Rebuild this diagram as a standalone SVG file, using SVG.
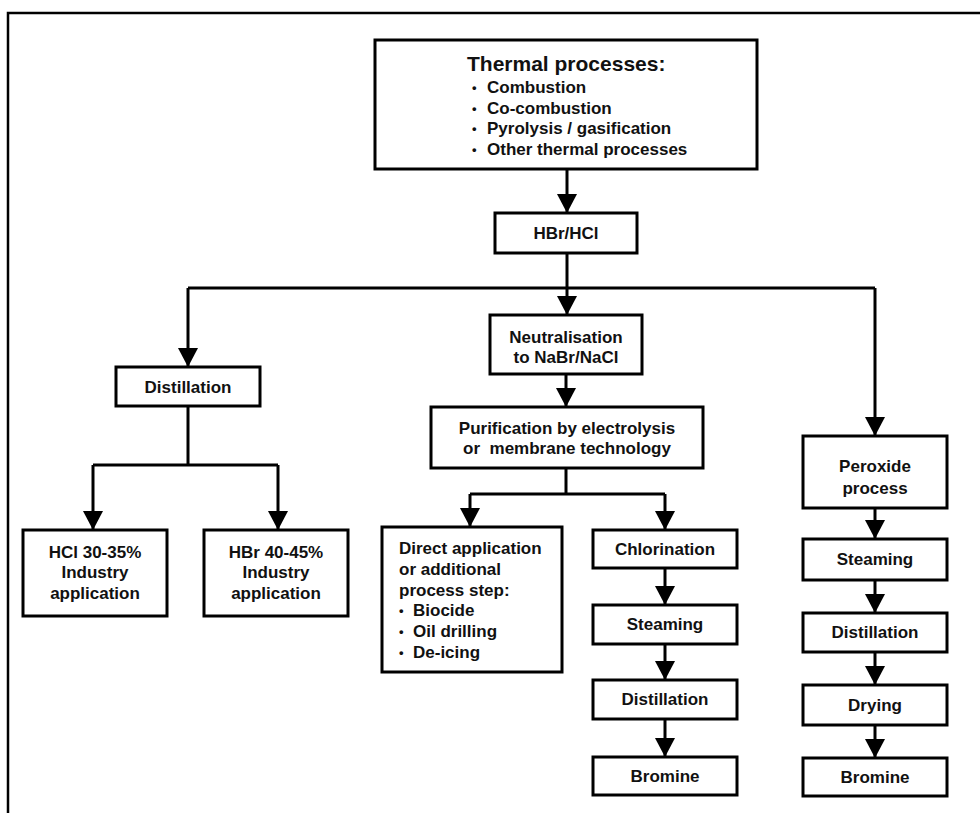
<svg xmlns="http://www.w3.org/2000/svg" width="980" height="813" viewBox="0 0 980 813">
<style>
.box{fill:#fff;stroke:#000;stroke-width:3}
.t{font-family:"Liberation Sans",Arial,sans-serif;font-weight:bold;font-size:17px;fill:#111}
.c{text-anchor:middle}
.h{font-size:21px}
.b{font-size:13px}
.ln{fill:none;stroke:#000;stroke-width:3}
</style>
<defs>
<marker id="ah" viewBox="0 0 19 20" refX="19" refY="10" markerWidth="19" markerHeight="20" markerUnits="userSpaceOnUse" orient="auto">
<path d="M0,0 L19,10 L0,20 z" fill="#000"/>
</marker>
</defs>
<rect width="980" height="813" fill="#fff"/>
<path d="M8,813 V13 H980" fill="none" stroke="#000" stroke-width="2.5"/>

<g id="connectors">
<path class="ln" d="M567,169 V213" marker-end="url(#ah)"/>
<path class="ln" d="M567,253 V315" marker-end="url(#ah)"/>
<path class="ln" d="M188,288 H875"/>
<path class="ln" d="M188,288 V367" marker-end="url(#ah)"/>
<path class="ln" d="M875,288 V436" marker-end="url(#ah)"/>
<path class="ln" d="M566,374 V407" marker-end="url(#ah)"/>
<path class="ln" d="M566,468 V494"/>
<path class="ln" d="M470,494 H665"/>
<path class="ln" d="M470,494 V527" marker-end="url(#ah)"/>
<path class="ln" d="M665,494 V530" marker-end="url(#ah)"/>
<path class="ln" d="M665,568 V605" marker-end="url(#ah)"/>
<path class="ln" d="M665,644 V680" marker-end="url(#ah)"/>
<path class="ln" d="M665,719 V757" marker-end="url(#ah)"/>
<path class="ln" d="M875,508 V539" marker-end="url(#ah)"/>
<path class="ln" d="M875,580 V613" marker-end="url(#ah)"/>
<path class="ln" d="M875,652 V685" marker-end="url(#ah)"/>
<path class="ln" d="M875,725 V758" marker-end="url(#ah)"/>
<path class="ln" d="M188,406 V465"/>
<path class="ln" d="M93,465 H278"/>
<path class="ln" d="M93,465 V530" marker-end="url(#ah)"/>
<path class="ln" d="M278,465 V530" marker-end="url(#ah)"/>
</g>

<g id="thermal">
<rect class="box" x="375" y="40" width="382" height="129"/>
<text class="t h" x="467" y="71">Thermal processes:</text>
<text class="t b" x="472" y="92">•</text><text class="t" x="487" y="93">Combustion</text>
<text class="t b" x="472" y="113">•</text><text class="t" x="487" y="114">Co-combustion</text>
<text class="t b" x="472" y="133">•</text><text class="t" x="487" y="134">Pyrolysis / gasification</text>
<text class="t b" x="472" y="154">•</text><text class="t" x="487" y="155">Other thermal processes</text>
</g>

<g id="hbrhcl">
<rect class="box" x="495" y="213" width="142" height="40"/>
<text class="t c" x="566" y="239">HBr/HCl</text>
</g>

<g id="neutralisation">
<rect class="box" x="490" y="315" width="152" height="59"/>
<text class="t c" x="566" y="343">Neutralisation</text>
<text class="t c" x="566" y="363">to NaBr/NaCl</text>
</g>

<g id="purification">
<rect class="box" x="431" y="407" width="272" height="61"/>
<text class="t c" x="567" y="434">Purification by electrolysis</text>
<text class="t c" x="567" y="454" xml:space="preserve">or  membrane technology</text>
</g>

<g id="distillation-left">
<rect class="box" x="116" y="367" width="144" height="39"/>
<text class="t c" x="188" y="393">Distillation</text>
</g>

<g id="hcl">
<rect class="box" x="23" y="530" width="144" height="86"/>
<text class="t c" x="95" y="558">HCl 30-35%</text>
<text class="t c" x="95" y="578">Industry</text>
<text class="t c" x="95" y="599">application</text>
</g>

<g id="hbr">
<rect class="box" x="204" y="530" width="144" height="86"/>
<text class="t c" x="276" y="558">HBr 40-45%</text>
<text class="t c" x="276" y="578">Industry</text>
<text class="t c" x="276" y="599">application</text>
</g>

<g id="direct">
<rect class="box" x="382" y="527" width="180" height="145"/>
<text class="t" x="399" y="554">Direct application</text>
<text class="t" x="399" y="575">or additional</text>
<text class="t" x="399" y="596">process step:</text>
<text class="t b" x="399" y="615">•</text><text class="t" x="413" y="616">Biocide</text>
<text class="t b" x="399" y="636">•</text><text class="t" x="413" y="637">Oil drilling</text>
<text class="t b" x="399" y="657">•</text><text class="t" x="413" y="658">De-icing</text>
</g>

<g id="chlorination">
<rect class="box" x="593" y="530" width="144" height="38"/>
<text class="t c" x="665" y="555">Chlorination</text>
</g>
<g id="steaming-mid">
<rect class="box" x="593" y="605" width="144" height="39"/>
<text class="t c" x="665" y="630">Steaming</text>
</g>
<g id="distillation-mid">
<rect class="box" x="593" y="680" width="144" height="39"/>
<text class="t c" x="665" y="705">Distillation</text>
</g>
<g id="bromine-mid">
<rect class="box" x="593" y="757" width="144" height="38"/>
<text class="t c" x="665" y="782">Bromine</text>
</g>

<g id="peroxide">
<rect class="box" x="803" y="436" width="144" height="72"/>
<text class="t c" x="875" y="472">Peroxide</text>
<text class="t c" x="875" y="494">process</text>
</g>
<g id="steaming-right">
<rect class="box" x="803" y="539" width="144" height="41"/>
<text class="t c" x="875" y="565">Steaming</text>
</g>
<g id="distillation-right">
<rect class="box" x="803" y="613" width="144" height="39"/>
<text class="t c" x="875" y="638">Distillation</text>
</g>
<g id="drying">
<rect class="box" x="803" y="685" width="144" height="40"/>
<text class="t c" x="875" y="711">Drying</text>
</g>
<g id="bromine-right">
<rect class="box" x="803" y="758" width="144" height="38"/>
<text class="t c" x="875" y="783">Bromine</text>
</g>
</svg>
